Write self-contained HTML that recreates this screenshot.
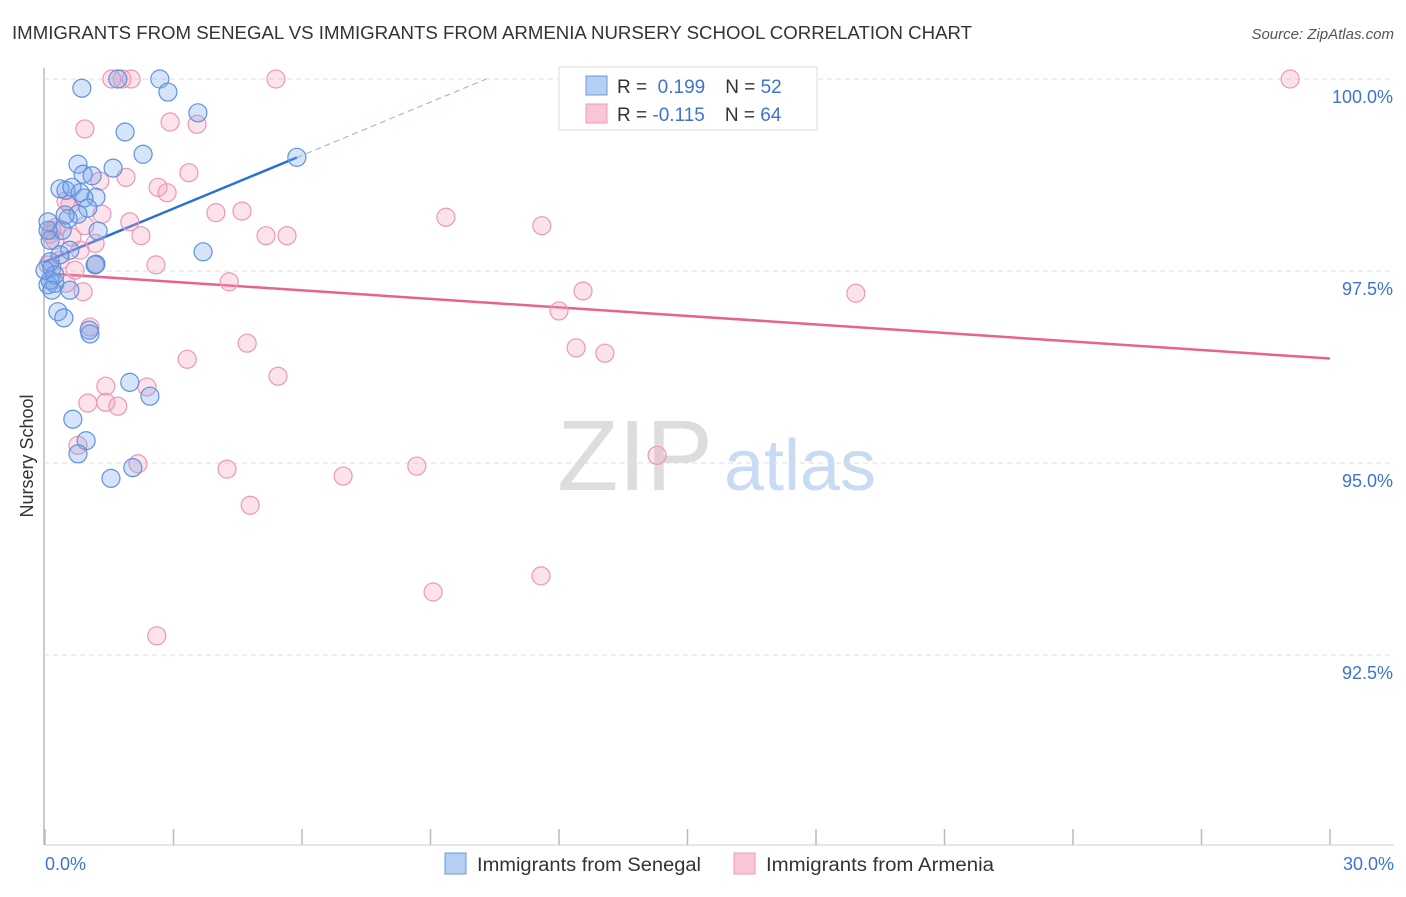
<!DOCTYPE html>
<html><head><meta charset="utf-8"><style>
body{margin:0;background:#fff;font-family:"Liberation Sans",sans-serif;}
svg text{font-family:"Liberation Sans",sans-serif;}
</style></head><body>
<svg id="chart" width="1406" height="892" xmlns="http://www.w3.org/2000/svg">
<text x="12" y="39" font-size="18" fill="#333" textLength="960" lengthAdjust="spacingAndGlyphs">IMMIGRANTS FROM SENEGAL VS IMMIGRANTS FROM ARMENIA NURSERY SCHOOL CORRELATION CHART</text>
<text x="1394" y="39" font-size="15" fill="#555" text-anchor="end" font-style="italic">Source: ZipAtlas.com</text>
<text x="635" y="490" font-size="100" fill="#ddd" text-anchor="middle" font-family="Liberation Serif,serif">ZIP</text>
<text x="800" y="490" font-size="72" fill="#c9dbf2" text-anchor="middle">atlas</text>
<text transform="translate(33,456) rotate(-90)" font-size="18" fill="#333" text-anchor="middle">Nursery School</text>
<line x1="44" y1="68" x2="44" y2="845" stroke="#bbb" stroke-width="1.5"/>
<line x1="44" y1="845" x2="1394" y2="845" stroke="#ccc" stroke-width="1"/>
<g id="grid"></g><g id="ticks"></g><g id="lines"></g><g id="points"></g>
<text x="45" y="870" font-size="18" fill="#3f73d2">0.0%</text>
<text x="1394" y="870" font-size="18" fill="#3f73d2" text-anchor="end">30.0%</text>
<g>
<rect x="559" y="67" width="258" height="63" fill="#fff" stroke="#ddd"/>
<rect x="586" y="76" width="21" height="19" fill="#b5cff3" stroke="#6a99df"/>
<rect x="586" y="104" width="21" height="19" fill="#f9c6d6" stroke="#ee9cb7"/>
<text x="617" y="93" font-size="19" fill="#333">R = <tspan fill="#3f73d2">&#160;0.199</tspan><tspan dx="20">N = </tspan><tspan fill="#3f73d2">52</tspan></text>
<text x="617" y="121" font-size="19" fill="#333">R = <tspan fill="#3f73d2">-0.115</tspan><tspan dx="20">N = </tspan><tspan fill="#3f73d2">64</tspan></text>
</g>
<g><rect x="445" y="853" width="21" height="21" fill="#b5cff3" stroke="#6a99df"/><text x="477" y="871" font-size="19" fill="#333" textLength="224" lengthAdjust="spacingAndGlyphs">Immigrants from Senegal</text></g>
<g><rect x="734" y="853" width="21" height="21" fill="#f9c6d6" stroke="#ee9cb7"/><text x="766" y="871" font-size="19" fill="#333" textLength="228" lengthAdjust="spacingAndGlyphs">Immigrants from Armenia</text></g>
</svg>
<script>
const yTicks=[100,97.5,95,92.5];
const yTickLabels=["100.0%","97.5%","95.0%","92.5%"];
const xTicks=[0,3,6,9,12,15,18,21,24,27,30];
const senegalX=[0.86,1.70,2.68,2.87,1.87,3.57,2.29,0.77,1.59,5.88,0.89,1.10,0.35,0.49,0.63,0.82,1.19,0.91,1.00,0.07,0.54,0.77,0.40,1.24,3.69,0.58,0.35,0.12,1.19,0.16,0.23,0.07,0.58,0.30,0.44,1.05,1.03,1.98,2.45,0.65,0.96,0.77,2.05,1.54,0.12,0.23,0,0.12,0.47,1.17,0.16,0.07];
const senegalY=[99.88,100,100,99.83,99.31,99.56,99.02,98.89,98.84,98.98,98.76,98.74,98.57,98.55,98.59,98.52,98.46,98.45,98.32,98.14,98.18,98.24,98.03,98.02,97.75,97.77,97.71,97.62,97.59,97.54,97.34,97.32,97.25,96.97,96.89,96.68,96.73,96.05,95.87,95.57,95.29,95.12,94.94,94.80,97.38,97.45,97.51,97.90,98.23,97.58,97.25,98.03];
const armeniaX=[1.56,1.80,2.01,5.39,29.07,0.93,3.55,2.92,3.36,1.89,1.28,2.64,2.85,3.99,4.60,1.33,1.98,0.49,0.93,0.12,0.26,0.63,1.17,2.24,5.16,5.65,9.36,11.60,2.59,1.17,4.30,0.89,0.49,12.56,18.93,12.00,1.05,12.40,13.07,4.72,3.32,5.44,1.42,2.38,1.00,1.42,1.70,0.77,2.17,4.25,6.96,8.68,14.29,4.79,9.06,11.58,2.61,0.16,0.35,0.70,0.23,0.82,0.07,0.58];
const armeniaY=[100,100,100,100,100,99.35,99.41,99.44,98.78,98.72,98.67,98.59,98.52,98.26,98.28,98.24,98.14,98.41,98.09,97.98,98.07,97.94,97.86,97.96,97.96,97.96,98.20,98.09,97.58,97.58,97.36,97.23,97.34,97.24,97.21,96.98,96.77,96.50,96.43,96.56,96.35,96.13,96.00,95.99,95.78,95.79,95.74,95.23,94.99,94.92,94.83,94.96,95.10,94.45,93.32,93.53,92.75,98.03,97.64,97.51,97.90,97.77,97.58,98.36];
const senegalTrend=[97.62,0.231];
const armeniaTrend=[97.47,-0.037];
const NS='http://www.w3.org/2000/svg';
const xs=v=>45+v*(1285/30);
const ys=v=>79+(100-v)*(192/2.5);
function mk(tag,attrs,parent){const e=document.createElementNS(NS,tag);for(const k in attrs)e.setAttribute(k,attrs[k]);document.getElementById(parent).appendChild(e);return e;}
yTicks.forEach((t,i)=>{
 const l=mk('line',{x1:44,x2:1394,y1:ys(t),y2:ys(t),stroke:'#ddd','stroke-dasharray':'5,4'},'grid');
 
 
 const tx=mk('text',{x:1393,y:ys(t)+24,'font-size':18,fill:'#3f73d2','text-anchor':'end'},'grid');
 tx.textContent=yTickLabels[i];
 
 
});
xTicks.forEach(t=>{
 const l=mk('line',{x1:xs(t),x2:xs(t),y1:829,y2:845,stroke:'#bbb','stroke-width':1.5},'ticks');
 
 
});
const sMax=Math.max(...senegalX);
const sy=x=>senegalTrend[0]+senegalTrend[1]*x;
const xEnd=(100-senegalTrend[0])/senegalTrend[1];
let l1=mk('line',{x1:xs(0),y1:ys(sy(0)),x2:xs(sMax),y2:ys(sy(sMax)),stroke:'#2a6fd6','stroke-width':2.5},'lines');


let l2=mk('line',{x1:xs(sMax),y1:ys(sy(sMax)),x2:xs(xEnd),y2:ys(100),stroke:'#8fb0e0','stroke-width':1,'stroke-dasharray':'6,4'},'lines');


let l3=mk('line',{x1:xs(0),y1:ys(armeniaTrend[0]),x2:xs(30),y2:ys(armeniaTrend[0]+armeniaTrend[1]*30),stroke:'#e8628f','stroke-width':2.5},'lines');


armeniaX.forEach((x,i)=>{
 const c=mk('circle',{cx:xs(x),cy:ys(armeniaY[i]),r:9,fill:'rgba(244,160,190,0.3)',stroke:'#ec98b4','stroke-width':1.2},'points');
 
 
});
senegalX.forEach((x,i)=>{
 const c=mk('circle',{cx:xs(x),cy:ys(senegalY[i]),r:9,fill:'rgba(120,165,235,0.3)',stroke:'#5f92dc','stroke-width':1.2},'points');
 
 
});
</script>
</body></html>
